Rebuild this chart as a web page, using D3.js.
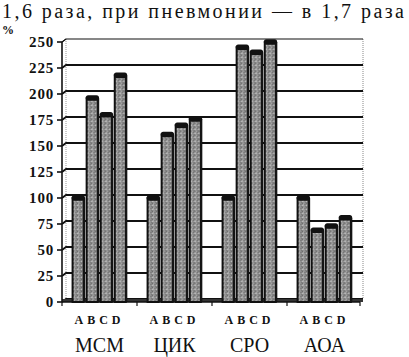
<!DOCTYPE html>
<html><head><meta charset="utf-8">
<script src="https://cdn.jsdelivr.net/npm/d3@7"></script>
<style>body{margin:0;background:#fff}svg{display:block}</style>
</head><body>
<svg id="c" width="409" height="357"></svg>
<script>
const categories = ["МСМ", "ЦИК", "СРО", "АОА"];
const series = ["A", "B", "C", "D"];
const valuesA = [100, 100, 100, 100];
const valuesB = [196, 161, 245, 69];
const valuesC = [180, 170, 240, 73];
const valuesD = [218, 176, 250, 81];
const yTicks = [0, 25, 50, 75, 100, 125, 150, 175, 200, 225, 250];
const headerText = "1,6 раза, при пневмонии — в 1,7 раза";
const unitLabel = "%";

const seriesValues = [valuesA, valuesB, valuesC, valuesD];
const data = [];
categories.forEach((c, ci) => series.forEach((s, si) => data.push({cat: c, s, v: seriesValues[si][ci]})));

const svg = d3.select("#c");
const defs = svg.append("defs");
const pat = defs.append("pattern").attr("id", "stip").attr("patternUnits", "userSpaceOnUse")
  .attr("width", 4).attr("height", 4);
pat.append("rect").attr("width", 4).attr("height", 4).attr("fill", "#939393");
[[0,0,"#5e5e5e"],[2,1,"#cfcfcf"],[1,2,"#6e6e6e"],[3,3,"#c4c4c4"],[3,0,"#b5b5b5"],[0,3,"#747474"],[2,3,"#5a5a5a"]]
  .forEach(([x,y,c]) => pat.append("rect").attr("x", x).attr("y", y).attr("width", 1).attr("height", 1).attr("fill", c));

const serif = "'Liberation Serif', 'Times New Roman', Times, serif";
const dx = 4, dy = 3; // 3D depth offset

const x0 = d3.scaleBand().domain(categories).range([62, 362]).paddingInner(0.25).paddingOuter(0.125);
const x1 = d3.scaleBand().domain(series).range([0, x0.bandwidth()]);
const y = d3.scaleLinear().domain([0, 250]).range([302, 42]);

// header text
svg.append("text").attr("x", 2).attr("y", 18).attr("font-family", serif).attr("font-size", 20)
  .attr("textLength", 402).attr("lengthAdjust", "spacing").attr("fill", "#111").text(headerText);

svg.append("text").attr("x", 2).attr("y", 34).attr("font-family", serif).attr("font-size", 12)
  .attr("font-weight", "bold").attr("fill", "#111").text(unitLabel);

// back wall frame
const wallL = 62 + dx, wallR = 363;
svg.append("line").attr("x1", wallL).attr("x2", wallL).attr("y1", y(250) - dy).attr("y2", y(0) - dy)
  .attr("stroke", "#999").attr("stroke-width", 1).attr("stroke-dasharray", "1,1");
svg.append("line").attr("x1", wallR).attr("x2", wallR).attr("y1", y(250) - dy).attr("y2", y(0) - dy)
  .attr("stroke", "#888").attr("stroke-width", 1).attr("stroke-dasharray", "1,1");

// gridlines
svg.append("g").selectAll("path").data(yTicks).join("path")
  .attr("d", v => `M${62},${y(v)} L${wallL},${y(v) - dy} L${wallR},${y(v) - dy}`)
  .attr("fill", "none").attr("stroke", "#111").attr("stroke-width", v => v === 250 ? 1.2 : 1.8);

// floor
svg.append("line").attr("x1", 62).attr("x2", wallR).attr("y1", y(0) - 1.5).attr("y2", y(0) - 1.5)
  .attr("stroke", "#333").attr("stroke-width", 3);

// bars
const bars = svg.append("g").selectAll("g").data(data).join("g")
  .attr("transform", d => `translate(${x0(d.cat) + x1(d.s)},0)`);
const bw = x1.bandwidth();
bars.append("rect").attr("x", 1.2).attr("y", d => y(d.v)).attr("width", bw - 3)
  .attr("height", d => y(0) - y(d.v)).attr("fill", "url(#stip)").attr("stroke", "#111").attr("stroke-width", 2);
bars.append("rect").attr("x", bw - 2.5).attr("y", d => y(d.v)).attr("width", 2.2)
  .attr("height", d => y(0) - y(d.v)).attr("fill", "#151515");
bars.append("rect").attr("x", 0.3).attr("y", d => y(d.v) - 2.8).attr("width", bw - 0.8)
  .attr("height", 5.5).attr("rx", 2.5).attr("fill", "#111");

// y axis
svg.append("line").attr("x1", 62).attr("x2", 62).attr("y1", y(0)).attr("y2", y(250))
  .attr("stroke", "#111").attr("stroke-width", 1.6);
svg.append("line").attr("x1", 62).attr("x2", wallL).attr("y1", y(250)).attr("y2", y(250) - dy)
  .attr("stroke", "#111").attr("stroke-width", 1);
const yAx = svg.append("g").selectAll("g").data(yTicks).join("g");
yAx.append("line").attr("x1", 57).attr("x2", 62).attr("y1", d => y(d)).attr("y2", d => y(d))
  .attr("stroke", "#111").attr("stroke-width", 1.6);
yAx.append("text").attr("x", 54).attr("y", d => y(d)).attr("dy", "0.35em").attr("text-anchor", "end")
  .attr("font-family", serif).attr("font-size", 15).attr("font-weight", "bold").attr("letter-spacing", 0.8)
  .attr("fill", "#111").text(d => d);

// x axis
svg.append("line").attr("x1", 62).attr("x2", 360).attr("y1", y(0)).attr("y2", y(0))
  .attr("stroke", "#111").attr("stroke-width", 1.6);
const bounds = categories.map(c => x0(c) - x0.step() * x0.paddingInner() / 2).concat([360]);
svg.append("g").selectAll("line").data(bounds).join("line")
  .attr("x1", d => d).attr("x2", d => d).attr("y1", y(0)).attr("y2", y(0) + 4)
  .attr("stroke", "#111").attr("stroke-width", 1.2);

// series letters
svg.append("g").selectAll("text").data(data).join("text")
  .attr("x", d => { const gc = x0(d.cat) + x0.bandwidth() / 2; const bc = x0(d.cat) + x1(d.s) + bw / 2; return gc - 2 + (bc - gc) * 0.88; })
  .attr("y", 324).attr("text-anchor", "middle").attr("font-family", serif).attr("font-size", 12)
  .attr("font-weight", "bold").attr("fill", "#111").text(d => d.s);

// category labels
svg.append("g").selectAll("text").data(categories).join("text")
  .attr("x", d => x0(d) + x0.bandwidth() / 2).attr("y", 352).attr("text-anchor", "middle")
  .attr("font-family", serif).attr("font-size", 20).attr("fill", "#111").text(d => d);
</script>
</body></html>
